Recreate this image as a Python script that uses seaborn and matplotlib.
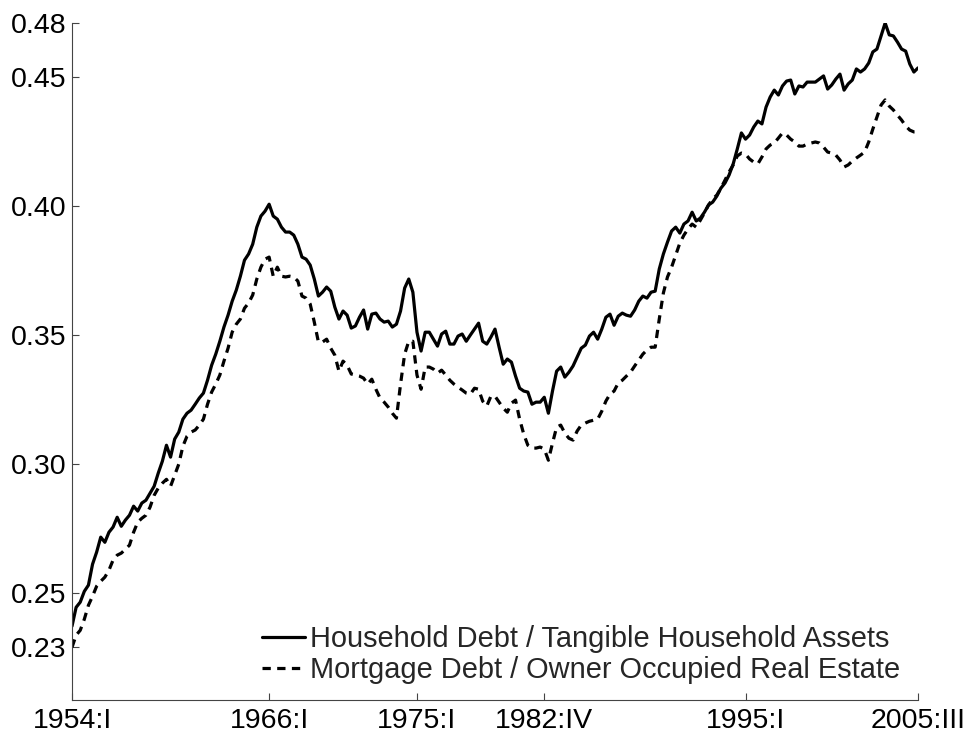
import numpy as np
import pandas as pd
import matplotlib
matplotlib.use("Agg")
import matplotlib.pyplot as plt
import seaborn as sns

start_year = 1954

household_debt_ratio = [
    0.2371, 0.2444, 0.2464, 0.2506, 0.2530, 0.2611, 0.2658, 0.2716, 0.2696, 0.2735,
    0.2755, 0.2793, 0.2758, 0.2782, 0.2801, 0.2836, 0.2817, 0.2848, 0.2859, 0.2886,
    0.2913, 0.2964, 0.3010, 0.3072, 0.3026, 0.3096, 0.3123, 0.3173, 0.3196, 0.3208,
    0.3231, 0.3255, 0.3274, 0.3324, 0.3382, 0.3425, 0.3475, 0.3530, 0.3576, 0.3630,
    0.3673, 0.3727, 0.3789, 0.3813, 0.3851, 0.3917, 0.3960, 0.3979, 0.4006, 0.3960,
    0.3948, 0.3917, 0.3898, 0.3898, 0.3886, 0.3851, 0.3801, 0.3793, 0.3770, 0.3716,
    0.3650, 0.3665, 0.3685, 0.3669, 0.3607, 0.3561, 0.3592, 0.3576, 0.3526, 0.3534,
    0.3568, 0.3596, 0.3522, 0.3580, 0.3584, 0.3561, 0.3549, 0.3553, 0.3530, 0.3541,
    0.3592, 0.3681, 0.3716, 0.3665, 0.3510, 0.3437, 0.3510, 0.3510, 0.3483, 0.3456,
    0.3503, 0.3514, 0.3464, 0.3464, 0.3495, 0.3503, 0.3475, 0.3499, 0.3522, 0.3545,
    0.3475, 0.3464, 0.3491, 0.3522, 0.3452, 0.3386, 0.3406, 0.3394, 0.3340, 0.3293,
    0.3282, 0.3278, 0.3231, 0.3239, 0.3239, 0.3258, 0.3196, 0.3282, 0.3359, 0.3375,
    0.3336, 0.3355, 0.3379, 0.3413, 0.3448, 0.3460, 0.3495, 0.3510, 0.3483, 0.3522,
    0.3568, 0.3580, 0.3537, 0.3572, 0.3584, 0.3576, 0.3572, 0.3596, 0.3630, 0.3650,
    0.3642, 0.3665, 0.3669, 0.3755, 0.3813, 0.3859, 0.3902, 0.3917, 0.3894, 0.3929,
    0.3941, 0.3975, 0.3941, 0.3952, 0.3975, 0.4003, 0.4014, 0.4037, 0.4068, 0.4088,
    0.4119, 0.4162, 0.4220, 0.4282, 0.4258, 0.4274, 0.4305, 0.4328, 0.4317, 0.4382,
    0.4421, 0.4448, 0.4429, 0.4464, 0.4483, 0.4487, 0.4433, 0.4464, 0.4460, 0.4479,
    0.4479, 0.4479, 0.4491, 0.4503, 0.4452, 0.4468, 0.4491, 0.4510, 0.4448, 0.4472,
    0.4487, 0.4530, 0.4518, 0.4530, 0.4553, 0.4596, 0.4607, 0.4658, 0.4708, 0.4662,
    0.4658, 0.4634, 0.4607, 0.4599, 0.4549, 0.4518, 0.4534,
]

mortgage_debt_ratio = [
    0.2289, 0.2336, 0.2355, 0.2398, 0.2452, 0.2487, 0.2526, 0.2545, 0.2561, 0.2588,
    0.2627, 0.2646, 0.2654, 0.2669, 0.2685, 0.2735, 0.2774, 0.2789, 0.2801, 0.2832,
    0.2878, 0.2906, 0.2925, 0.2940, 0.2913, 0.2956, 0.2999, 0.3068, 0.3107, 0.3123,
    0.3131, 0.3150, 0.3173, 0.3231, 0.3278, 0.3309, 0.3344, 0.3398, 0.3448, 0.3510,
    0.3541, 0.3561, 0.3603, 0.3623, 0.3654, 0.3716, 0.3762, 0.3793, 0.3801, 0.3727,
    0.3762, 0.3727, 0.3724, 0.3727, 0.3724, 0.3708, 0.3650, 0.3642, 0.3619, 0.3549,
    0.3472, 0.3472, 0.3483, 0.3448, 0.3421, 0.3359, 0.3398, 0.3382, 0.3348, 0.3344,
    0.3340, 0.3332, 0.3309, 0.3328, 0.3289, 0.3255, 0.3239, 0.3220, 0.3196, 0.3177,
    0.3309, 0.3425, 0.3475, 0.3475, 0.3344, 0.3289, 0.3375, 0.3375, 0.3367, 0.3351,
    0.3363, 0.3344, 0.3324, 0.3309, 0.3297, 0.3286, 0.3274, 0.3270, 0.3293, 0.3289,
    0.3243, 0.3224, 0.3262, 0.3262, 0.3239, 0.3216, 0.3200, 0.3235, 0.3247, 0.3173,
    0.3115, 0.3072, 0.3061, 0.3061, 0.3065, 0.3057, 0.3014, 0.3080, 0.3142, 0.3150,
    0.3119, 0.3099, 0.3092, 0.3127, 0.3150, 0.3158, 0.3165, 0.3169, 0.3173, 0.3204,
    0.3243, 0.3270, 0.3282, 0.3313, 0.3324, 0.3340, 0.3355, 0.3379, 0.3402, 0.3425,
    0.3441, 0.3452, 0.3452, 0.3561, 0.3662, 0.3724, 0.3762, 0.3809, 0.3855, 0.3886,
    0.3910, 0.3929, 0.3917, 0.3944, 0.3972, 0.4003, 0.4026, 0.4041, 0.4068, 0.4099,
    0.4131, 0.4158, 0.4193, 0.4204, 0.4200, 0.4181, 0.4169, 0.4162, 0.4189, 0.4220,
    0.4235, 0.4243, 0.4262, 0.4282, 0.4274, 0.4258, 0.4247, 0.4231, 0.4231, 0.4239,
    0.4243, 0.4247, 0.4243, 0.4227, 0.4208, 0.4204, 0.4196, 0.4177, 0.4150, 0.4158,
    0.4173, 0.4185, 0.4196, 0.4208, 0.4247, 0.4297, 0.4344, 0.4390, 0.4410, 0.4386,
    0.4371, 0.4351, 0.4332, 0.4309, 0.4293, 0.4286, 0.4286,
]

series_names = [
    "Household Debt / Tangible Household Assets",
    "Mortgage Debt / Owner Occupied Real Estate",
]
tick_periods = ["1954:I", "1966:I", "1975:I", "1982:IV", "1995:I", "2005:III"]
inner_yticks = [0.25, 0.30, 0.35, 0.40, 0.45]
yticklabels = ["0.23", "0.25", "0.30", "0.35", "0.40", "0.45", "0.48"]

roman = {"I": 1, "II": 2, "III": 3, "IV": 4}


def period_index(label):
    year, quarter = label.split(":")
    return (int(year) - start_year) * 4 + roman[quarter] - 1


n = len(household_debt_ratio)
quarters = np.arange(n)
df = pd.DataFrame({
    "quarter": np.concatenate([quarters, np.arange(len(mortgage_debt_ratio))]),
    "ratio": household_debt_ratio + mortgage_debt_ratio,
    "series": [series_names[0]] * n + [series_names[1]] * len(mortgage_debt_ratio),
})

sns.set_style("ticks")
plt.rcParams["font.family"] = ["Liberation Sans", "DejaVu Sans"]

W, H = 971, 742
fig = plt.figure(figsize=(W / 100, H / 100), dpi=100)
ax_left, ax_right, ax_top, ax_bottom = 72, 918, 23, 700
ax = fig.add_axes([ax_left / W, 1 - ax_bottom / H, (ax_right - ax_left) / W, (ax_bottom - ax_top) / H])

sns.lineplot(
    data=df, x="quarter", y="ratio", style="series",
    dashes={series_names[0]: "", series_names[1]: (2.6, 2.0)},
    color="black", linewidth=2.3, ax=ax, legend=True,
)

ymin_data = min(mortgage_debt_ratio)
ymax_data = max(household_debt_ratio)
ax.set_xlim(0, n - 1)
ax.set_ylim(0.2085, ymax_data)

ax.set_yticks([ymin_data] + inner_yticks + [ymax_data])
ax.set_yticklabels(yticklabels)
ax.set_xticks([period_index(p) for p in tick_periods])
ax.set_xticklabels(tick_periods)

ax.set_xlabel("")
ax.set_ylabel("")
for side in ["top", "right"]:
    ax.spines[side].set_visible(False)
for side in ["left", "bottom"]:
    ax.spines[side].set_color("#444444")
    ax.spines[side].set_linewidth(0.8)
ax.tick_params(axis="both", direction="in", length=5, width=0.8, color="#444444",
               labelsize=20.5, labelcolor="black")
ax.tick_params(axis="y", pad=4)
ax.tick_params(axis="x", pad=6)

handles, labels = ax.get_legend_handles_labels()
leg = ax.legend(handles, labels, loc="upper left", bbox_to_anchor=(0.2246, 0.111),
                frameon=False, fontsize=20.9, handlelength=1.47, handletextpad=0.17,
                borderpad=0, borderaxespad=0, labelspacing=0.1)

fig.savefig("out.png", dpi=100)
